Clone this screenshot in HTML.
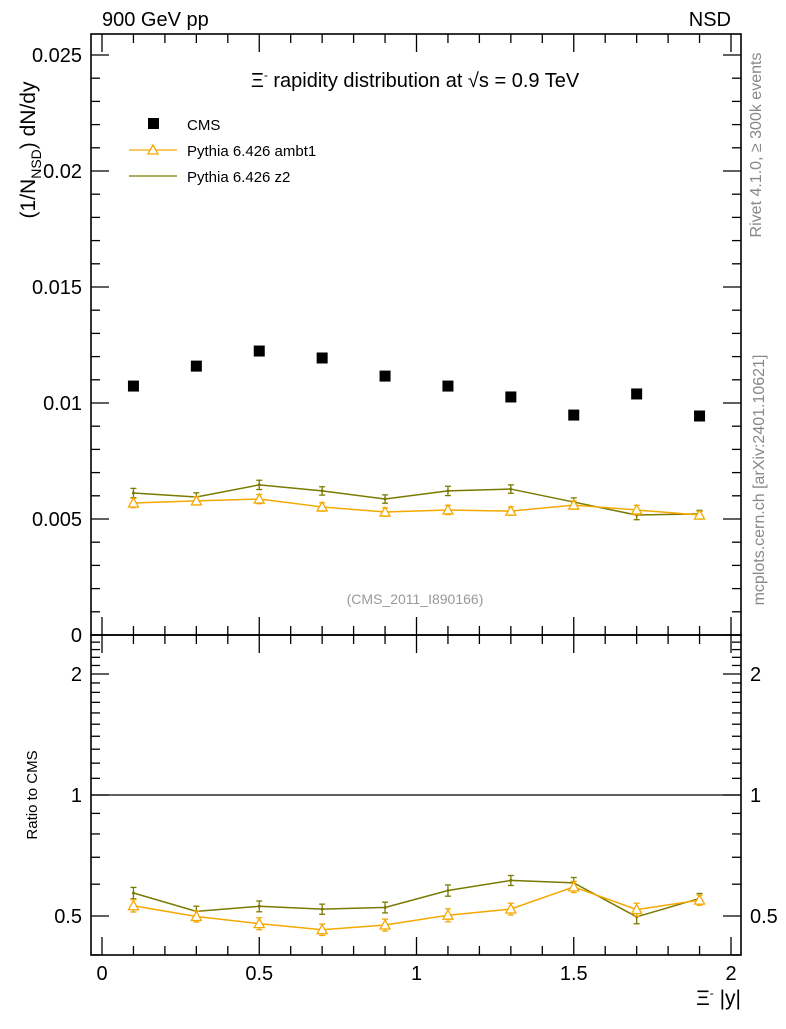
<!DOCTYPE html>
<html><head><meta charset="utf-8"><style>
body{margin:0;background:#fff;font-family:"Liberation Sans",sans-serif}
svg text{font-family:"Liberation Sans",sans-serif}
</style></head><body>
<svg id="c" width="786" height="1024" xmlns="http://www.w3.org/2000/svg">
<text x="102" y="26" font-size="20">900 GeV pp</text>
<text x="731" y="26" font-size="20" text-anchor="end">NSD</text>
<text x="415" y="87" font-size="20" text-anchor="middle">Ξ<tspan dy="-8" font-size="12">-</tspan><tspan dy="8"> rapidity distribution at √s = 0.9 TeV</tspan></text>
<text transform="translate(35,150) rotate(-90)" font-size="21" text-anchor="middle">(1/N<tspan dy="6" font-size="14">NSD</tspan><tspan dy="-6">) dN/dy</tspan></text>
<text transform="translate(37,795) rotate(-90)" font-size="15" text-anchor="middle">Ratio to CMS</text>
<text x="741" y="1005" font-size="21" text-anchor="end">Ξ<tspan dy="-8" font-size="12">-</tspan><tspan dy="8"> |y|</tspan></text>
<text transform="translate(761,145) rotate(-90)" font-size="16" fill="#888" text-anchor="middle">Rivet 4.1.0, ≥ 300k events</text>
<text transform="translate(764,480) rotate(-90)" font-size="16" fill="#888" text-anchor="middle">mcplots.cern.ch [arXiv:2401.10621]</text>
<text x="415" y="604" font-size="14" fill="#999" text-anchor="middle">(CMS_2011_I890166)</text>
<g>
<rect x="148" y="118" width="11" height="11" fill="#000"/>
<text x="187" y="130" font-size="15">CMS</text>
<line x1="129" y1="150" x2="177" y2="150" stroke="#f5a800" stroke-width="1.3"/>
<path d="M153,145 L158,154 L148,154 Z" fill="#fff" stroke="#f5a800" stroke-width="1.3"/>
<text x="187" y="156" font-size="15">Pythia 6.426 ambt1</text>
<line x1="129" y1="176" x2="177" y2="176" stroke="#7a7a00" stroke-width="1.3"/>
<text x="187" y="182" font-size="15">Pythia 6.426 z2</text>
</g>
<g id="g"></g>
</svg>
<script>
const xs=[0.1,0.3,0.5,0.7,0.9,1.1,1.3,1.5,1.7,1.9];
const cms=[0.01073,0.01159,0.01224,0.01194,0.01116,0.01073,0.01026,0.00948,0.01039,0.00944];
const ambt1=[0.00569,0.00578,0.00586,0.00552,0.0053,0.00539,0.00534,0.0056,0.00539,0.00517];
const z2=[0.00612,0.00595,0.00647,0.00621,0.00586,0.00621,0.00629,0.00573,0.00517,0.00522];
const mcErr=[0.0002,0.00018,0.0002,0.00018,0.00018,0.0002,0.00018,0.00018,0.0002,0.00015];
const yTicks=[0,0.005,0.01,0.015,0.02,0.025];
const yTickLabels=["0","0.005","0.01","0.015","0.02","0.025"];
const rTicks=[0.5,1,2];
const rTickLabels=["0.5","1","2"];
const xTicks=[0,0.5,1,1.5,2];
const xTickLabels=["0","0.5","1","1.5","2"];
const NS="http://www.w3.org/2000/svg",G=document.getElementById('g');
const L=91,R=741,T=34,M=635,B=955;
const X=v=>102+v*314.5;
const Y=v=>635-v*23200;
const RY=v=>795-Math.log10(v)*402;
function el(t,a,p){const e=document.createElementNS(NS,t);for(const k in a)e.setAttribute(k,a[k]);(p||G).appendChild(e);return e;}
function ln(x1,y1,x2,y2,c,w){return el('line',{x1,y1,x2,y2,stroke:c||'#000','stroke-width':w||1.3});}
let f1=el('rect',{x:L,y:T,width:R-L,height:M-T,fill:'none',stroke:'#000','stroke-width':1.6});


let f2=el('rect',{x:L,y:M,width:R-L,height:B-M,fill:'none',stroke:'#000','stroke-width':1.6});


for(let i=0;i<=21;i++){const v=i*0.1,x=X(v);if(x>R)break;const maj=i%5==0;const l=maj?18:9;
[[T,1],[M,-1],[M,1],[B,-1]].forEach(([y,d])=>ln(x,y,x,y+d*l));}
xTicks.forEach((v,i)=>{const t=el('text',{x:X(v),y:980,'font-size':20,'text-anchor':'middle'});t.textContent=xTickLabels[i];

});
for(let i=0;i<=26;i++){const v=i*0.001,y=Y(v);if(y<T)break;const maj=i%5==0;const l=maj?18:9;ln(L,y,L+l,y);ln(R,y,R-l,y);}
yTicks.forEach((v,i)=>{const t=el('text',{x:82,y:Y(v)+7,'font-size':20,'text-anchor':'end'});t.textContent=yTickLabels[i];

});
for(let v=0.4;v<=2.5;v+=0.1){const r=Math.round(v*10)/10;const y=RY(r);const maj=rTicks.includes(r);const l=maj?18:9;if(y<M||y>B)continue;ln(L,y,L+l,y);ln(R,y,R-l,y);}
rTicks.forEach((v,i)=>{[[82,'end'],[750,'start']].forEach(([x,a])=>{const t=el('text',{x,y:RY(v)+7,'font-size':20,'text-anchor':a});t.textContent=rTickLabels[i];

});});
ln(L,RY(1),R,RY(1),'#000',1.3);
function series(vals,col,tri,name){
 const pts=xs.map((x,i)=>X(x)+','+Y(vals[i])).join(' ');
 const p=el('polyline',{points:pts,fill:'none',stroke:col,'stroke-width':1.5});
 
 
 const rp=xs.map((x,i)=>X(x)+','+RY(vals[i]/cms[i])).join(' ');
 const q=el('polyline',{points:rp,fill:'none',stroke:col,'stroke-width':1.5});
 
 
 xs.forEach((x,i)=>{const cx=X(x);
  const y1=Y(vals[i]+mcErr[i]),y2=Y(vals[i]-mcErr[i]);ln(cx,y1,cx,y2,col,1.3);ln(cx-3,y1,cx+3,y1,col,1.3);ln(cx-3,y2,cx+3,y2,col,1.3);
  const r=vals[i]/cms[i],re=mcErr[i]/cms[i];const a=RY(r+re),b=RY(r-re);ln(cx,a,cx,b,col,1.3);ln(cx-3,a,cx+3,a,col,1.3);ln(cx-3,b,cx+3,b,col,1.3);
  [Y(vals[i]),RY(r)].forEach(cy=>{let m;if(tri)m=el('path',{d:`M${cx},${cy-5} L${cx+5},${cy+4} L${cx-5},${cy+4} Z`,fill:'#fff',stroke:col,'stroke-width':1.3});
   else m=el('circle',{cx,cy,r:1.5,fill:col});
   
   });
 });
}
series(z2,'#7a7a00',false,'z2');
series(ambt1,'#f5a800',true,'ambt1');
xs.forEach((x,i)=>{const m=el('rect',{x:X(x)-5.5,y:Y(cms[i])-5.5,width:11,height:11,fill:'#000'});

});
</script>
</body></html>
